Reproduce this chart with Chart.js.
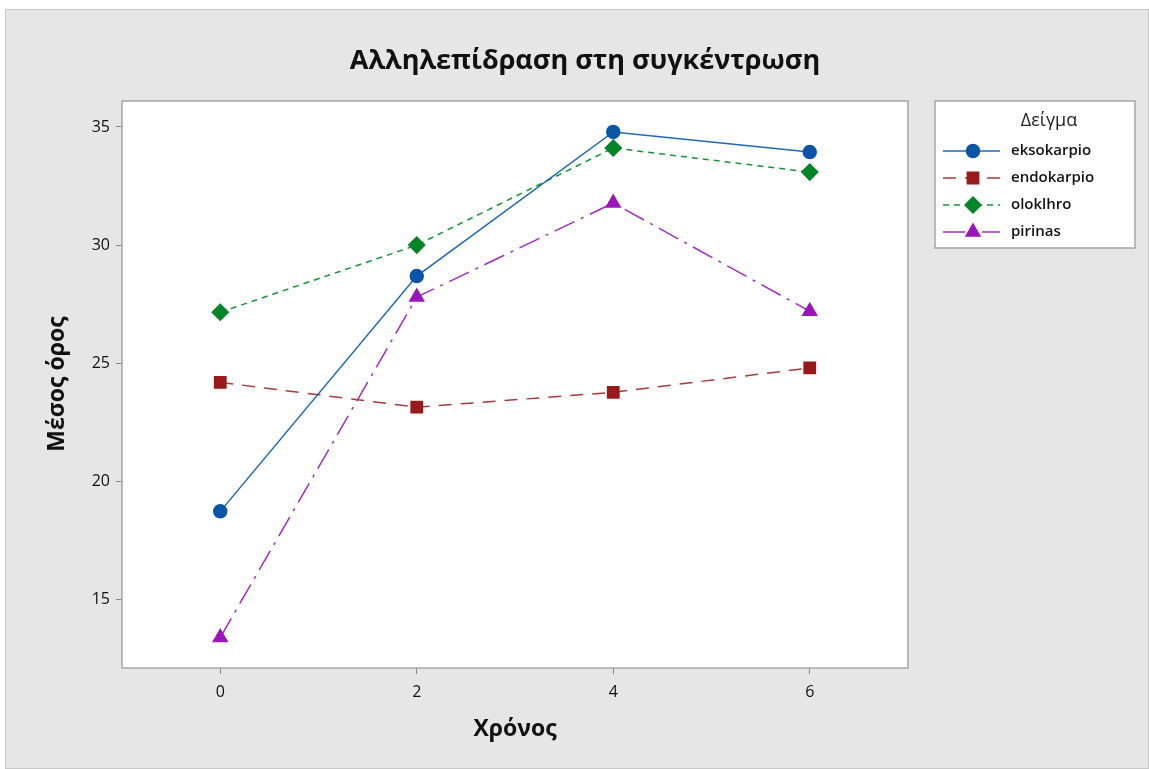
<!DOCTYPE html>
<html>
<head>
<meta charset="utf-8">
<script src="https://cdn.jsdelivr.net/npm/chart.js@4"></script>
<style>
  html, body { margin: 0; padding: 0; background: #fff; }
  #wrap { width: 1149px; height: 769px; }
</style>
</head>
<body>
<div id="wrap"><canvas id="grafica" width="1149" height="769"></canvas></div>
<script>
// datos
var tiempos = [0, 2, 4, 6];
var eksokarpio = [18.73, 28.69, 34.79, 33.94];
var endokarpio = [24.19, 23.14, 23.77, 24.8];
var oloklhro = [27.16, 30.0, 34.11, 33.09];
var pirinas = [13.39, 27.8, 31.78, 27.2];
var xTicks = [0, 2, 4, 6];
var yTicks = [15, 20, 25, 30, 35];

function puntos(vals) {
  return tiempos.map(function (t, i) { return { x: t, y: vals[i] }; });
}

var fuente = "'Open Sans', 'DejaVu Sans', sans-serif";

const fondo = {
  id: 'fondo',
  beforeDraw(chart) {
    var ctx = chart.ctx;
    ctx.save();
    ctx.fillStyle = '#fff';
    ctx.fillRect(0, 0, chart.width, chart.height);
    ctx.fillStyle = '#e6e6e6';
    ctx.fillRect(5, 9, chart.width - 5, chart.height - 9);
    ctx.strokeStyle = '#c8c8c8';
    ctx.lineWidth = 1;
    ctx.strokeRect(5.5, 9.5, chart.width - 6, chart.height - 10);
    var a = chart.chartArea;
    ctx.fillStyle = '#fff';
    ctx.fillRect(a.left, a.top, a.right - a.left, a.bottom - a.top);
    ctx.restore();
  },
  afterDraw(chart) {
    var ctx = chart.ctx;
    var a = chart.chartArea;
    ctx.save();
    ctx.strokeStyle = '#a6a6a6';
    ctx.lineWidth = 1.5;
    ctx.strokeRect(a.left, a.top, a.right - a.left, a.bottom - a.top);
    // titulo
    ctx.fillStyle = '#111';
    ctx.font = 'bold 27px ' + fuente;
    ctx.textAlign = 'center';
    ctx.textBaseline = 'middle';
    ctx.fillText('Αλληλεπίδραση στη συγκέντρωση', 585, 61);
    // titulos de ejes
    ctx.font = 'bold 23px ' + fuente;
    ctx.fillText('Χρόνος', 515, 729);
    ctx.save();
    ctx.translate(57, 384);
    ctx.rotate(-Math.PI / 2);
    ctx.fillText('Μέσος όρος', 0, 0);
    ctx.restore();
    // leyenda
    var lx = 935, ly = 101, lw = 200, lh = 147;
    ctx.fillStyle = '#fff';
    ctx.fillRect(lx, ly, lw, lh);
    ctx.strokeStyle = '#a6a6a6';
    ctx.lineWidth = 1.5;
    ctx.strokeRect(lx, ly, lw, lh);
    ctx.fillStyle = '#222';
    ctx.font = '18px ' + fuente;
    ctx.fillText('Δείγμα', 1049, 121);
    chart.data.datasets.forEach(function (ds, i) {
      var y = 151 + i * 27;
      ctx.save();
      ctx.strokeStyle = ds.borderColor;
      ctx.lineWidth = 1.5;
      ctx.setLineDash(ds.borderDash || []);
      ctx.beginPath();
      ctx.moveTo(943, y);
      ctx.lineTo(1000, y);
      ctx.stroke();
      ctx.restore();
      ctx.fillStyle = ds.pointBackgroundColor;
      ctx.strokeStyle = ds.pointBackgroundColor;
      Chart.helpers.drawPoint(ctx, {
        pointStyle: ds.pointStyle,
        radius: ds.pointRadius,
        borderWidth: 1,
        rotation: 0
      }, 973, y);
      ctx.fillStyle = '#111';
      ctx.font = '600 15px ' + fuente;
      ctx.textAlign = 'left';
      ctx.fillText(ds.label, 1011, y);
      ctx.textAlign = 'center';
    });
    ctx.restore();
  }
};

const datos_eks = {
  label: 'eksokarpio',
  data: puntos(eksokarpio),
  borderColor: '#1f66b5',
  backgroundColor: '#0a55a8',
  pointBackgroundColor: '#0a55a8',
  pointBorderColor: '#0a55a8',
  pointStyle: 'circle',
  pointRadius: 6.5,
  borderWidth: 1.5
};
const datos_endo = {
  label: 'endokarpio',
  data: puntos(endokarpio),
  borderColor: '#a83a3a',
  backgroundColor: '#991a1a',
  pointBackgroundColor: '#991a1a',
  pointBorderColor: '#991a1a',
  pointStyle: 'rect',
  pointRadius: 8,
  borderDash: [13, 9],
  borderWidth: 1.5
};
const datos_olo = {
  label: 'oloklhro',
  data: puntos(oloklhro),
  borderColor: '#169436',
  backgroundColor: '#068428',
  pointBackgroundColor: '#068428',
  pointBorderColor: '#068428',
  pointStyle: 'rectRot',
  pointRadius: 8,
  borderDash: [6, 5],
  borderWidth: 1.5
};
const datos_pir = {
  label: 'pirinas',
  data: puntos(pirinas),
  borderColor: '#a02cc4',
  backgroundColor: '#9a16bc',
  pointBackgroundColor: '#9a16bc',
  pointBorderColor: '#9a16bc',
  pointStyle: 'triangle',
  pointRadius: 8,
  borderDash: [22, 7, 3, 7],
  borderWidth: 1.5
};

new Chart(document.getElementById('grafica'), {
  type: 'line',
  data: { datasets: [datos_eks, datos_endo, datos_olo, datos_pir] },
  options: {
    responsive: false,
    animation: false,
    layout: { padding: { top: 101, right: 241, left: 0, bottom: 0 } },
    elements: { line: { tension: 0 } },
    plugins: { legend: { display: false }, title: { display: false }, tooltip: { enabled: false } },
    scales: {
      x: {
        type: 'linear',
        min: -1,
        max: 7,
        afterBuildTicks: function (s) { s.ticks = xTicks.map(function (v) { return { value: v }; }); },
        afterFit: function (s) { s.height = 101; },
        grid: { drawOnChartArea: false, tickLength: 6, color: '#888' },
        border: { display: false },
        ticks: { color: '#111', font: { size: 16, family: fuente }, padding: 9 },
        title: { display: false }
      },
      y: {
        min: 12.1,
        max: 36.1,
        afterBuildTicks: function (s) { s.ticks = yTicks.map(function (v) { return { value: v }; }); },
        afterFit: function (s) { s.width = 122; },
        grid: { drawOnChartArea: false, tickLength: 6, color: '#888' },
        border: { display: false },
        ticks: { color: '#111', font: { size: 16, family: fuente }, padding: 6 },
        title: { display: false }
      }
    }
  },
  plugins: [fondo]
});
</script>
</body>
</html>
